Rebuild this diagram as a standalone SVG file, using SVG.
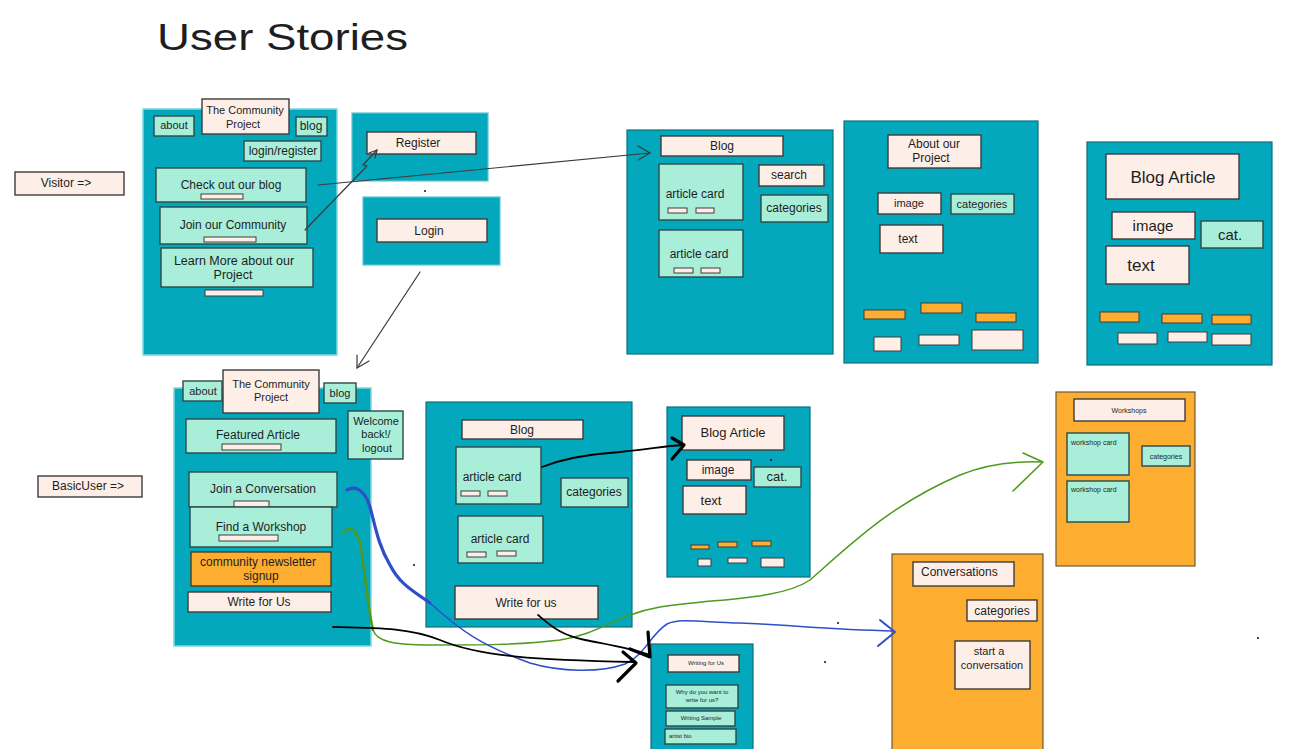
<svg xmlns="http://www.w3.org/2000/svg" width="1300" height="749" viewBox="0 0 1300 749">
<style>
  text { font-family: "Liberation Sans", Arial, sans-serif; font-size: 12px; fill: #1e1e1e; text-anchor: middle; }
  .st { text-anchor: start; }
  .page { fill: #03a8bc; stroke: #0f6f7c; stroke-width: 1.2; }
  .pagel { fill: #03a8bc; stroke: #7ad9e2; stroke-width: 1.5; }
  .opage { fill: #fdad2f; stroke: #6e5a3a; stroke-width: 1.2; }
  .mint { fill: #a9eed9; stroke: #2c4b4a; stroke-width: 1.4; }
  .cream { fill: #fdefe7; stroke: #3c3c3c; stroke-width: 1.4; }
  .orange { fill: #fdad2f; stroke: #4a3c22; stroke-width: 1.4; }
  .bar { fill: #fdefe7; stroke: #3c3c3c; stroke-width: 1; }
  .obar { fill: #fdad2f; stroke: #3c3c3c; stroke-width: 1; }
  .gray { fill: none; stroke: #3a3a3a; stroke-width: 1.2; stroke-linecap: round; stroke-linejoin: round; }
  .blk { fill: none; stroke: #000; stroke-width: 1.8; stroke-linecap: round; stroke-linejoin: round; }
  .blkh { fill: none; stroke: #000; stroke-width: 3.2; stroke-linecap: round; stroke-linejoin: round; }
  .blue { fill: none; stroke: #2f4fc8; stroke-width: 1.5; stroke-linecap: round; stroke-linejoin: round; }
  .blueb { fill: none; stroke: #2f4fc8; stroke-width: 3.2; stroke-linecap: round; stroke-linejoin: round; }
  .green { fill: none; stroke: #4d9a1e; stroke-width: 1.5; stroke-linecap: round; stroke-linejoin: round; }
  .greenb { fill: none; stroke: #4d9a1e; stroke-width: 2.6; stroke-linecap: round; stroke-linejoin: round; }
  .dot { fill: #111; }
  .s7 { font-size: 7px; }
  .s6 { font-size: 6px; }
  .s11 { font-size: 11px; }
  .s13 { font-size: 13px; }
  .s15 { font-size: 15px; }
  .s16 { font-size: 17px; }
</style>
<rect width="1300" height="749" fill="#ffffff"/>

<g id="title">
  <text x="157" y="50" class="st" style="font-size:37px" textLength="251" lengthAdjust="spacingAndGlyphs">User Stories</text>
</g>

<g id="visitor-label">
  <rect class="cream" x="15" y="172" width="109" height="23"/>
  <text x="66" y="187">Visitor =&gt;</text>
</g>

<g id="visitor-home">
  <rect class="pagel" x="143" y="109" width="194" height="246"/>
  <rect class="mint" x="154" y="116" width="40" height="20"/>
  <text x="174" y="129" class="s11">about</text>
  <rect class="cream" x="202" y="99" width="87" height="35"/>
  <text x="245" y="114" class="s11">The Community</text>
  <text x="243" y="128" class="s11">Project</text>
  <rect class="mint" x="296" y="117" width="31" height="19"/>
  <text x="311" y="130">blog</text>
  <rect class="mint" x="244" y="141" width="77" height="20"/>
  <text x="283" y="155">login/register</text>
  <rect class="mint" x="156" y="168" width="150" height="34"/>
  <text x="231" y="189">Check out our blog</text>
  <rect class="bar" x="201" y="194" width="42" height="5"/>
  <rect class="mint" x="160" y="207" width="147" height="37"/>
  <text x="233" y="229">Join our Community</text>
  <rect class="bar" x="204" y="237" width="52" height="5"/>
  <rect class="mint" x="161" y="248" width="152" height="39"/>
  <text x="234" y="265" style="font-size:12.5px">Learn More about our</text>
  <text x="233" y="279" style="font-size:12.5px">Project</text>
  <rect class="bar" x="205" y="290" width="58" height="6"/>
</g>

<g id="register-panel">
  <rect class="page" x="352" y="113" width="136" height="68" style="stroke:#5cc7d3"/>
  <rect class="cream" x="367" y="132" width="109" height="22"/>
  <text x="418" y="147">Register</text>
</g>

<g id="login-panel">
  <rect class="page" x="363" y="197" width="137" height="68" style="stroke:#5cc7d3"/>
  <rect class="cream" x="377" y="219" width="110" height="23"/>
  <text x="429" y="235">Login</text>
</g>

<g id="blog-page-top">
  <rect class="page" x="627" y="130" width="206" height="224"/>
  <rect class="cream" x="661" y="136" width="122" height="20"/>
  <text x="722" y="150">Blog</text>
  <rect class="mint" x="659" y="164" width="84" height="56"/>
  <text x="695" y="198">article card</text>
  <rect class="bar" x="668" y="208" width="19" height="5"/>
  <rect class="bar" x="696" y="208" width="18" height="5"/>
  <rect class="mint" x="659" y="230" width="84" height="47"/>
  <text x="699" y="258">article card</text>
  <rect class="bar" x="674" y="268" width="19" height="5"/>
  <rect class="bar" x="701" y="268" width="19" height="5"/>
  <rect class="cream" x="759" y="165" width="65" height="21"/>
  <text x="789" y="179">search</text>
  <rect class="mint" x="761" y="195" width="67" height="27"/>
  <text x="794" y="212">categories</text>
</g>

<g id="about-page">
  <rect class="page" x="844" y="121" width="194" height="242"/>
  <rect class="cream" x="888" y="135" width="93" height="33"/>
  <text x="934" y="148">About our</text>
  <text x="931" y="162">Project</text>
  <rect class="cream" x="878" y="193" width="63" height="21"/>
  <text x="909" y="207" class="s11">image</text>
  <rect class="mint" x="951" y="194" width="63" height="20"/>
  <text x="982" y="208" class="s11">categories</text>
  <rect class="cream" x="880" y="225" width="63" height="28"/>
  <text x="908" y="243">text</text>
  <rect class="obar" x="864" y="310" width="41" height="9"/>
  <rect class="obar" x="921" y="303" width="41" height="10"/>
  <rect class="obar" x="976" y="313" width="40" height="9"/>
  <rect class="bar" x="874" y="337" width="27" height="14"/>
  <rect class="bar" x="919" y="335" width="40" height="10"/>
  <rect class="bar" x="972" y="330" width="51" height="20"/>
</g>

<g id="blog-article-top">
  <rect class="page" x="1087" y="142" width="185" height="223"/>
  <rect class="cream" x="1106" y="154" width="133" height="45"/>
  <text x="1173" y="183" class="s16">Blog Article</text>
  <rect class="cream" x="1112" y="212" width="83" height="27"/>
  <text x="1153" y="231" class="s15">image</text>
  <rect class="mint" x="1201" y="221" width="62" height="27"/>
  <text x="1230" y="240" class="s15">cat.</text>
  <rect class="cream" x="1106" y="246" width="83" height="38"/>
  <text x="1141" y="271" class="s16">text</text>
  <rect class="obar" x="1100" y="312" width="39" height="10"/>
  <rect class="obar" x="1162" y="314" width="40" height="9"/>
  <rect class="obar" x="1212" y="315" width="39" height="9"/>
  <rect class="bar" x="1118" y="333" width="39" height="11"/>
  <rect class="bar" x="1168" y="332" width="39" height="10"/>
  <rect class="bar" x="1212" y="334" width="39" height="11"/>
</g>

<g id="basicuser-label">
  <rect class="cream" x="38" y="476" width="104" height="21"/>
  <text x="88" y="490">BasicUser =&gt;</text>
</g>

<g id="basicuser-home">
  <rect class="pagel" x="174" y="388" width="197" height="258"/>
  <rect class="mint" x="183" y="381" width="39" height="20"/>
  <text x="203" y="395" class="s11">about</text>
  <rect class="cream" x="223" y="370" width="96" height="43"/>
  <text x="271" y="388" class="s11">The Community</text>
  <text x="271" y="401" class="s11">Project</text>
  <rect class="mint" x="324" y="383" width="32" height="20"/>
  <text x="340" y="397" class="s11">blog</text>
  <rect class="mint" x="348" y="411" width="55" height="48"/>
  <text x="376" y="425" class="s11">Welcome</text>
  <text x="376" y="438" class="s11">back!/</text>
  <text x="377" y="452" class="s11">logout</text>
  <rect class="mint" x="186" y="419" width="150" height="34"/>
  <text x="258" y="439">Featured Article</text>
  <rect class="bar" x="222" y="444" width="59" height="6"/>
  <rect class="mint" x="189" y="472" width="148" height="35"/>
  <text x="263" y="493">Join a Conversation</text>
  <rect class="bar" x="234" y="501" width="35" height="6"/>
  <rect class="mint" x="190" y="507" width="142" height="40"/>
  <text x="261" y="531">Find a Workshop</text>
  <rect class="bar" x="219" y="535" width="59" height="6"/>
  <rect class="orange" x="191" y="552" width="140" height="34"/>
  <text x="258" y="566">community newsletter</text>
  <text x="261" y="580">signup</text>
  <rect class="cream" x="188" y="592" width="143" height="20"/>
  <text x="259" y="606">Write for Us</text>
</g>

<g id="blog-page-bottom">
  <rect class="page" x="426" y="402" width="206" height="225"/>
  <rect class="cream" x="462" y="420" width="121" height="19"/>
  <text x="522" y="434">Blog</text>
  <rect class="mint" x="456" y="447" width="85" height="57"/>
  <text x="492" y="481">article card</text>
  <rect class="bar" x="461" y="491" width="19" height="5"/>
  <rect class="bar" x="488" y="491" width="19" height="5"/>
  <rect class="mint" x="458" y="516" width="85" height="47"/>
  <text x="500" y="543">article card</text>
  <rect class="bar" x="467" y="552" width="19" height="5"/>
  <rect class="bar" x="497" y="551" width="19" height="5"/>
  <rect class="mint" x="561" y="478" width="67" height="29"/>
  <text x="594" y="496">categories</text>
  <rect class="cream" x="455" y="586" width="143" height="33"/>
  <text x="526" y="607">Write for us</text>
</g>

<g id="blog-article-bottom">
  <rect class="page" x="667" y="407" width="143" height="170"/>
  <rect class="cream" x="682" y="416" width="102" height="34"/>
  <text x="733" y="437" class="s13">Blog Article</text>
  <rect class="cream" x="687" y="460" width="64" height="20"/>
  <text x="718" y="474">image</text>
  <rect class="mint" x="754" y="467" width="47" height="20"/>
  <text x="777" y="481" class="s13">cat.</text>
  <rect class="cream" x="683" y="486" width="63" height="28"/>
  <text x="711" y="505" class="s13">text</text>
  <rect class="obar" x="691" y="545" width="18" height="4"/>
  <rect class="obar" x="718" y="542" width="19" height="5"/>
  <rect class="obar" x="752" y="541" width="19" height="5"/>
  <rect class="bar" x="698" y="559" width="13" height="7"/>
  <rect class="bar" x="728" y="558" width="19" height="5"/>
  <rect class="bar" x="761" y="558" width="23" height="9"/>
</g>

<g id="writing-page">
  <rect class="page" x="651" y="644" width="102" height="110"/>
  <rect class="cream" x="668" y="655" width="71" height="17"/>
  <text x="706" y="665" class="s6">Writing for Us</text>
  <rect class="mint" x="666" y="685" width="72" height="23"/>
  <text x="702" y="694" class="s6">Why do you want to</text>
  <text x="702" y="702" class="s6">write for us?</text>
  <rect class="mint" x="666" y="711" width="69" height="15"/>
  <text x="701" y="720" class="s6">Writing Sample</text>
  <rect class="mint" x="665" y="729" width="71" height="15"/>
  <text x="669" y="738" class="s6 st">artist bio</text>
</g>

<g id="workshops-page">
  <rect class="opage" x="1056" y="392" width="139" height="174"/>
  <rect class="cream" x="1074" y="399" width="111" height="22"/>
  <text x="1129" y="413" class="s7">Workshops</text>
  <rect class="mint" x="1067" y="433" width="62" height="42"/>
  <text x="1071" y="445" class="s7 st">workshop card</text>
  <rect class="mint" x="1142" y="446" width="48" height="20"/>
  <text x="1166" y="459" class="s7">categories</text>
  <rect class="mint" x="1067" y="481" width="62" height="41"/>
  <text x="1071" y="492" class="s7 st">workshop card</text>
</g>

<g id="conversations-page">
  <rect class="opage" x="892" y="554" width="151" height="200"/>
  <rect class="cream" x="913" y="562" width="101" height="24"/>
  <text x="921" y="576" class="st">Conversations</text>
  <rect class="cream" x="967" y="600" width="70" height="21"/>
  <text x="1002" y="615">categories</text>
  <rect class="cream" x="955" y="641" width="75" height="48"/>
  <text x="989" y="655" class="s11">start a</text>
  <text x="992" y="669" class="s11">conversation</text>
</g>

<g id="connectors">
  <path class="gray" d="M318,185 L650,153"/>
  <path class="gray" d="M638,146 L650,153 L638,160"/>
  <path class="gray" d="M305,230 L367,166 L363,165 L377,150"/>
  <path class="gray" d="M369,153 L377,150 L375,158"/>
  <path class="gray" d="M420,272 L357,368"/>
  <path class="gray" d="M357,355 L357,368 L369,361"/>

  <path class="blk" d="M542,467 C560,460 580,455 620,452 C650,449 665,446 683,445"/>
  <path class="blkh" d="M672,438 L684,445 L672,459"/>

  <path class="green" d="M373,630 C377,642 395,645 430,645 C480,645 520,645 560,640 C600,634 615,615 660,607 C720,598 780,600 810,580 C850,545 890,505 960,475 C985,465 1010,461 1041,462"/>
  <path class="greenb" d="M343,532 C350,526 357,530 360,543 C365,570 368,610 373,630"/>
  <path class="green" d="M1023,453 L1043,462 L1013,491"/>

  <path class="blueb" d="M347,490 C355,485 365,490 370,507 C375,525 378,545 390,565 C400,585 415,592 430,603"/>
  <path class="blue" d="M430,603 C460,630 480,645 530,663 C560,672 600,673 625,664 C645,655 650,635 667,624 C680,618 700,622 740,623 C790,625 830,630 893,631"/>
  <path class="blue" style="stroke-width:2" d="M880,620 L895,632 L878,646"/>

  <path class="blk" d="M333,627 C380,628 410,628 440,640 C480,657 540,660 634,662"/>
  <path class="blkh" d="M623,652 L636,663 L618,681"/>

  <path class="blk" d="M538,615 C550,625 560,635 585,640 C610,645 630,648 650,655"/>
  <path class="blkh" d="M648,632 L650,657 L630,649"/>
</g>

<g id="dots">
  <circle class="dot" cx="425" cy="191" r="1"/>
  <circle class="dot" cx="771" cy="460" r="1"/>
  <circle class="dot" cx="414" cy="565" r="1"/>
  <circle class="dot" cx="838" cy="623" r="1"/>
  <circle class="dot" cx="825" cy="662" r="1"/>
  <circle class="dot" cx="1258" cy="638" r="1"/>
</g>
</svg>
